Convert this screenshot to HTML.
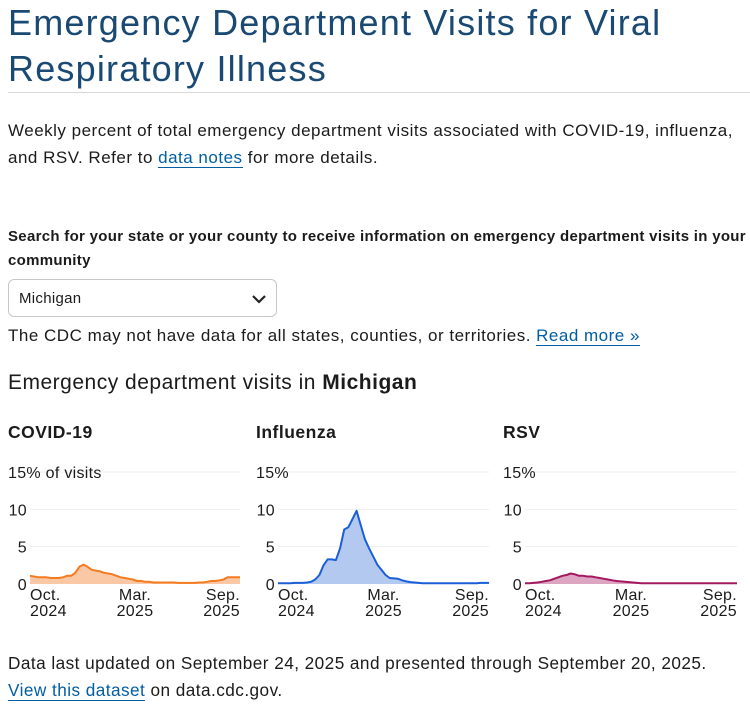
<!DOCTYPE html>
<html><head><meta charset="utf-8">
<style>
body{margin:0;width:750px;height:709px;overflow:hidden;background:#fff;font-family:"Liberation Sans",sans-serif;color:#1b1b1b;position:relative}
.a{position:absolute;white-space:nowrap}
a{color:#005ea2;text-decoration:none;border-bottom:1px solid #005ea2}
</style></head><body>
<div class="a" style="left:8px;top:0px;font-size:36px;letter-spacing:1.2px;line-height:46px;color:#1a4a73;white-space:normal;width:700px">Emergency Department Visits for Viral Respiratory Illness</div>
<div class="a" style="left:8px;top:92px;width:742px;height:1px;background:#d8d8d8"></div>
<div class="a" style="left:8px;top:117px;font-size:17px;letter-spacing:0.5px;line-height:27px;white-space:normal;width:742px">Weekly percent of total emergency department visits associated with COVID-19, influenza, and RSV. Refer to <a>data notes</a> for more details.</div>
<div class="a" style="left:8px;top:225px;font-size:15px;letter-spacing:0.3px;font-weight:bold;line-height:24px;white-space:normal;width:742px">Search for your state or your county to receive information on emergency department visits in your community</div>
<div class="a" style="left:8px;top:279px;width:269px;height:38px;border:1px solid #c8c8c8;border-radius:6px;box-sizing:border-box;font-size:15px;letter-spacing:0.3px;line-height:37px;padding-left:10px">Michigan
<svg style="position:absolute;right:9px;top:14px" width="16" height="10"><path d="M2 2 L8 8 L14 2" stroke="#222" stroke-width="2.2" fill="none"/></svg></div>
<div class="a" style="left:8px;top:325px;font-size:17px;letter-spacing:0.5px;line-height:22px">The CDC may not have data for all states, counties, or territories. <a>Read more »</a></div>
<div class="a" style="left:8px;top:370px;font-size:21px;letter-spacing:0.5px;line-height:26px">Emergency department visits in <b>Michigan</b></div>
<svg class="a" style="left:0;top:410px" width="750" height="230" id="charts"></svg>
<div class="a" style="left:8px;top:650px;font-size:17.2px;letter-spacing:0.45px;line-height:27px">Data last updated on September 24, 2025 and presented through September 20, 2025.<br><a>View this dataset</a> on data.cdc.gov.</div>
<script>
const covidValues=[1.1,1.0,0.9,0.9,0.9,0.8,0.8,0.8,0.9,1.1,1.1,1.5,2.3,2.6,2.3,1.9,1.8,1.7,1.5,1.4,1.3,1.1,0.9,0.8,0.7,0.6,0.4,0.4,0.3,0.3,0.2,0.2,0.2,0.2,0.2,0.2,0.15,0.15,0.15,0.15,0.15,0.2,0.2,0.3,0.4,0.4,0.5,0.6,0.9,0.9,0.9,0.9];
const fluValues=[0.1,0.1,0.1,0.1,0.15,0.15,0.15,0.2,0.3,0.6,1.2,2.5,3.3,3.3,3.2,4.8,7.3,7.6,8.7,9.8,7.9,6.0,4.8,3.7,2.6,1.9,1.2,0.8,0.75,0.7,0.5,0.35,0.25,0.2,0.15,0.1,0.1,0.1,0.1,0.1,0.1,0.1,0.1,0.1,0.1,0.1,0.1,0.1,0.1,0.15,0.15,0.15];
const rsvValues=[0.1,0.1,0.15,0.2,0.3,0.4,0.5,0.7,0.9,1.1,1.2,1.4,1.3,1.1,1.1,1.0,1.0,0.9,0.8,0.7,0.6,0.5,0.4,0.35,0.3,0.25,0.2,0.15,0.1,0.1,0.1,0.1,0.1,0.1,0.1,0.1,0.1,0.1,0.1,0.1,0.1,0.1,0.1,0.1,0.1,0.1,0.1,0.1,0.1,0.1,0.1,0.1];
const yTicks=[0,5,10,15];
const xTickLabels=[["Oct.","2024"],["Mar.","2025"],["Sep.","2025"]];
const chartTitles=["COVID-19","Influenza","RSV"];
const svg=document.getElementById('charts');
const NS='http://www.w3.org/2000/svg';
function mk(t,a,p){const e=document.createElementNS(NS,t);for(const k in a)e.setAttribute(k,a[k]);(p||svg).appendChild(e);return e;}
const panels=[{x0:30,x1:240,lx:8,vals:covidValues,line:'#f47b20',fill:'#fbc8a6',name:'covid'},
{x0:278,x1:489,lx:256,vals:fluValues,line:'#1b5fd6',fill:'#b4c9f0',name:'influenza'},
{x0:525,x1:737,lx:503,vals:rsvValues,line:'#a3185f',fill:'#dca6c3',name:'rsv'}];
const yBase=174,yTop=62;
function yS(v){return yBase-(v/15)*(yBase-yTop);}
panels.forEach((p,i)=>{
 const g=mk('g',{});
 
 
 const t=mk('text',{x:p.lx,y:28,'font-size':17.5,'letter-spacing':0.5,'font-weight':'bold',fill:'#1b1b1b'},g);t.textContent=chartTitles[i];
 
 
 yTicks.forEach(v=>{
  const y=yS(v);
  if(v>0){const l=mk('line',{x1:p.x0,x2:p.x1,y1:y,y2:y,stroke:'#eeeeee','stroke-width':1},g);
   
   }
  const lab=mk('text',{x:v===15?p.lx:p.x0-3,y:y+6,'font-size':16,'letter-spacing':0.3,fill:'#1b1b1b','text-anchor':v===15?'start':'end'},g);
  lab.textContent=v===15?(i===0?'15% of visits':'15%'):String(v);
  
  
 });
 const n=p.vals.length;
 const xS=k=>p.x0+(p.x1-p.x0)*k/(n-1);
 let d='';p.vals.forEach((v,k)=>{d+=(k?'L':'M')+xS(k).toFixed(1)+' '+yS(v).toFixed(1);});
 const area=mk('path',{d:d+'L'+p.x1+' '+yBase+'L'+p.x0+' '+yBase+'Z',fill:p.fill,stroke:'none'},g);
 
 
 const ln=mk('path',{d:d,fill:'none',stroke:p.line,'stroke-width':2,'stroke-linejoin':'round'},g);
 
 
 const anchors=['start','middle','end'];
 const xs=[p.x0,(p.x0+p.x1)/2,p.x1];
 xTickLabels.forEach((lb,j)=>{
  const tx=mk('text',{x:xs[j],y:190,'font-size':16,'letter-spacing':0.3,fill:'#1b1b1b','text-anchor':anchors[j]},g);
  tx.textContent=lb[0];
  
  
  const ty=mk('text',{x:xs[j],y:206,'font-size':16,'letter-spacing':0.3,fill:'#1b1b1b','text-anchor':anchors[j]},g);
  ty.textContent=lb[1];
  
  
 });
});
</script>
</body></html>
